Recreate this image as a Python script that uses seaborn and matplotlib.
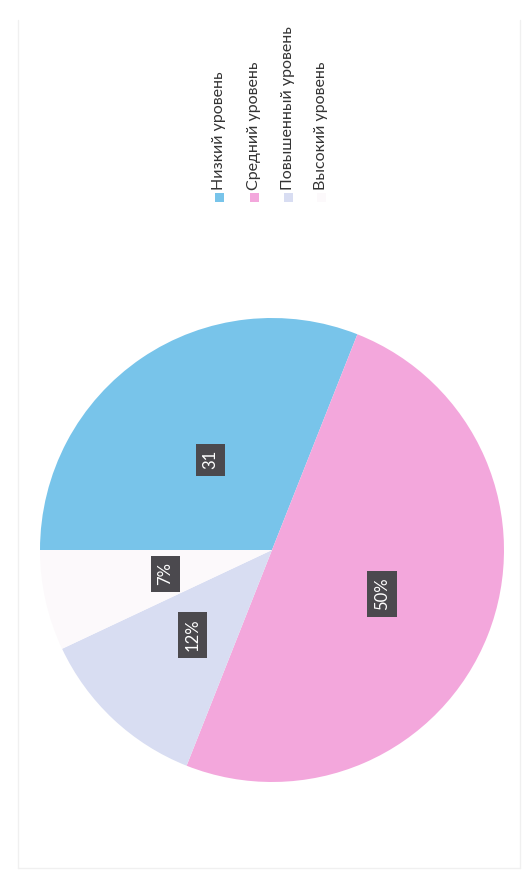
import numpy as np
import matplotlib
matplotlib.use("Agg")
import matplotlib.pyplot as plt
import seaborn as sns

# data (chart is a scan turned 90 degrees, so all text is rotated)
levels = ["Низкий уровень", "Средний уровень", "Повышенный уровень", "Высокий уровень"]
values = [31, 50, 12, 7]
value_labels = ["31", "50%", "12%", "7%"]
colors = ["#78c4ea", "#f3a7dc", "#d8ddf2", "#fcf9fb"]

sns.set_theme(style="white")
plt.rcParams['font.family'] = ['Lato', 'DejaVu Sans']

fig = plt.figure(figsize=(5.24, 8.81), dpi=100)
fig.patch.set_facecolor("white")

# pie, centred near (272, 550) px with radius ~232 px
W, H = 524, 881
cx, cy, r = 272, 550, 232
ax = fig.add_axes([(cx - r) / W, (H - cy - r) / H, 2 * r / W, 2 * r / H])
wedges, _ = ax.pie(values, colors=colors, startangle=180, counterclock=False,
                   radius=1, wedgeprops=dict(linewidth=0))
ax.set_xlim(-1, 1)
ax.set_ylim(-1, 1)
ax.set_aspect("equal")
ax.axis("off")

dist = [0.47, 0.51, 0.5, 0.47]
for w, txt, d in zip(wedges, value_labels, dist):
    ang = np.deg2rad((w.theta1 + w.theta2) / 2)
    ax.text(d * np.cos(ang), d * np.sin(ang), txt, rotation=90,
            ha="center", va="center", color="white", fontsize=12,
            bbox=dict(boxstyle="square,pad=0.4", fc="#4b494e", ec="none"))

# legend drawn by hand, rotated like the rest of the scan
leg_x = [219, 254, 288, 321]
for x, name, c in zip(leg_x, levels, colors):
    fig.patches.append(plt.Rectangle(((x - 4.5) / W, (H - 202) / H), 9 / W, 9 / H,
                                     transform=fig.transFigure, fc=c, ec="none"))
    fig.text(x / W, (H - 190) / H, name, rotation=90, ha="center", va="bottom",
             fontsize=11.5, color="#333333")

# faint frame from the scanned page
for seg in [([18, 18], [20, 868]), ([18, 520], [868, 868]), ([520, 520], [20, 868])]:
    fig.lines.append(plt.Line2D([p / W for p in seg[0]], [(H - p) / H for p in seg[1]],
                                transform=fig.transFigure, color="#f0f0f0", lw=1))

fig.savefig("out.png", dpi=100)
